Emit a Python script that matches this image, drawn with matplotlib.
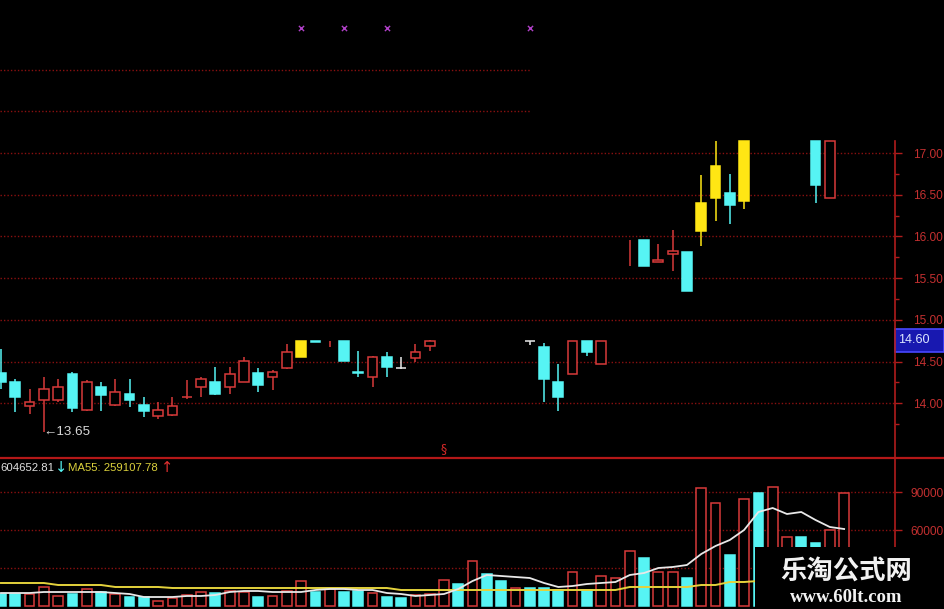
import numpy as np
import matplotlib
matplotlib.use('Agg')
import matplotlib.pyplot as plt
from matplotlib import font_manager
from matplotlib.patches import Rectangle
from matplotlib.lines import Line2D

nan = np.nan

# ---------------- data ----------------
idx = list(range(60))
kind = ['c', 'c', 'r', 'r', 'r', 'c', 'r', 'c', 'r', 'c',
        'c', 'r', 'r', 'r', 'r', 'c', 'r', 'r', 'c', 'r',
        'r', 'y', 'c', 'r', 'c', 'c', 'r', 'c', 'w', 'r',
        'r', '', '', '', '', '', '', 'w', 'c', 'c',
        'r', 'c', 'r', '', 'r', 'c', 'r', 'r', 'c', 'y',
        'y', 'c', 'y', '', '', '', '', 'c', 'r', '']
opens = [14.36, 14.26, 13.97, 14.04, 14.04, 14.35, 13.92, 14.19, 13.98, 14.11,
         13.98, 13.85, 13.86, 14.07, 14.19, 14.26, 14.19, 14.25, 14.36, 14.31,
         14.42, 14.56, 14.75, nan, 14.75, 14.38, 14.32, 14.55, 14.42, 14.54,
         14.69, nan, nan, nan, nan, nan, nan, 14.74, 14.67, 14.26,
         14.35, 14.75, 14.47, nan, nan, 15.96, 15.69, 15.79, 15.81, 16.06,
         16.46, 16.52, 16.43, nan, nan, nan, nan, 17.14, 16.46, nan]
closes = [14.26, 14.08, 14.02, 14.17, 14.19, 13.94, 14.26, 14.10, 14.14, 14.04,
          13.91, 13.92, 13.97, 14.08, 14.29, 14.11, 14.35, 14.51, 14.22, 14.38,
          14.62, 14.75, 14.73, nan, 14.51, 14.36, 14.55, 14.44, 14.42, 14.61,
          14.75, nan, nan, nan, nan, nan, nan, 14.74, 14.29, 14.08,
          14.75, 14.61, 14.75, nan, nan, 15.65, 15.72, 15.82, 15.35, 16.40,
          16.84, 16.38, 17.14, nan, nan, nan, nan, 16.62, 17.14, nan]
highs = [14.65, 14.29, 14.17, 14.32, 14.29, 14.38, 14.28, 14.26, 14.29, 14.29,
         14.08, 14.01, 14.08, 14.28, 14.32, 14.44, 14.43, 14.55, 14.42, 14.40,
         14.71, 14.75, 14.75, 14.75, 14.75, 14.63, 14.57, 14.61, 14.56, 14.71,
         14.76, nan, nan, nan, nan, nan, nan, 14.74, 14.72, 14.47,
         14.75, 14.75, 14.75, nan, 15.96, 15.96, 15.91, 16.08, 15.81, 16.74,
         17.14, 16.75, 17.14, nan, nan, nan, nan, 17.14, 17.14, nan]
lows = [14.17, 13.89, 13.87, 13.65, 14.01, 13.89, 13.91, 13.91, 13.97, 13.95,
        13.83, 13.81, 13.85, 14.05, 14.08, 14.10, 14.11, 14.25, 14.14, 14.16,
        14.41, 14.56, 14.73, 14.68, 14.51, 14.31, 14.20, 14.32, 14.41, 14.50,
        14.63, nan, nan, nan, nan, nan, nan, 14.70, 14.02, 13.91,
        14.35, 14.57, 14.47, nan, 15.64, 15.65, 15.69, 15.58, 15.35, 15.88,
        16.18, 16.15, 16.33, nan, nan, nan, nan, 16.40, 16.46, nan]

vol = [9470, 9470, 9470, 15000, 7900, 9470, 13420, 11050, 9470, 7100,
       7100, 3950, 6320, 8680, 11050, 10260, 11840, 11050, 7100, 7900,
       11840, 19740, 11050, 13420, 11050, 11840, 10260, 7100, 6320, 8680,
       9470, 20530, 17370, 35530, 25260, 19740, 14210, 14210, 14210, 12630,
       26840, 12630, 23690, 22110, 43420, 37900, 26840, 26840, 22110, 93160,
       81320, 40260, 84480, 89210, 93950, 54480, 54480, 49740, 60000, 89210]
vol_kind = ['c', 'c', 'r', 'r', 'r', 'c', 'r', 'c', 'r', 'c',
            'c', 'r', 'r', 'r', 'r', 'c', 'r', 'r', 'c', 'r',
            'r', 'r', 'c', 'r', 'c', 'c', 'r', 'c', 'c', 'r',
            'r', 'r', 'c', 'r', 'c', 'c', 'r', 'c', 'c', 'c',
            'r', 'c', 'r', 'r', 'r', 'c', 'r', 'r', 'c', 'r',
            'r', 'c', 'r', 'c', 'r', 'r', 'c', 'c', 'r', 'r']
vol_ma5 = [10260, 10260, 10260, 11050, 11050, 11050, 11050, 11050, 10260, 9470,
           7100, 7100, 7100, 7900, 7900, 8680, 11050, 11840, 11840, 11050,
           11050, 11050, 12630, 13420, 13420, 12630, 12630, 10260, 9470, 7900,
           8680, 9470, 13420, 19740, 24470, 23690, 22900, 22110, 18160, 15000,
           15790, 17370, 18160, 18950, 24470, 26050, 30000, 30790, 32370, 41050,
           47370, 52110, 60000, 74210, 77370, 72630, 74210, 67900, 62370, 60790]
vol_ma55 = [18160, 18160, 18160, 18160, 16580, 16580, 16580, 16580, 15000, 15000,
            15000, 15000, 14210, 14210, 14210, 14210, 14210, 14210, 14210, 14210,
            14210, 14210, 14210, 14210, 14210, 14210, 14210, 14210, 12630, 12630,
            12630, 12630, 12630, 12630, 12630, 12630, 12630, 12630, 12630, 12630,
            12630, 12630, 12630, 12630, 15000, 15000, 15000, 15000, 15000, 16580,
            16580, 18950, 18950, 19740, 20530, 21320, 22110, 22900, 22900, 23690]

price_ticks = [14.0, 14.5, 15.0, 15.5, 16.0, 16.5, 17.0]
price_minor = [13.75, 14.25, 14.75, 15.25, 15.75, 16.25, 16.75]
upper_grid = [17.5, 18.0]
vol_ticks = [30000, 60000, 90000]
signal_idx = [21, 24, 27, 37]
signal_level = 18.50
low_idx, low_val = 3, 13.65
last_price = '14.60'
ma5_text = '604652.81'
ma55_text = 'MA55: 259107.78'

# ---------------- style ----------------
W, H = 945, 609
names = {f.name for f in font_manager.fontManager.ttflist}
NARROW = 'Liberation Sans Narrow' in names
FAM = ['Liberation Sans Narrow', 'DejaVu Sans'] if NARROW else ['Liberation Sans', 'DejaVu Sans']
LBL = 10.0 if NARROW else 8.6
LEG = 9.6 if NARROW else 8.2

RED = '#d83a3a'
CYAN = '#56f4f4'
YEL = '#ffe614'
WHT = '#e8e8e8'
GRID = '#8a1010'
AXRED = '#b01c1c'
colmap = {'r': RED, 'c': CYAN, 'y': YEL, 'w': WHT}


def fx(px):
    return px / W


def fy(py):
    return 1 - py / H


fig = plt.figure(figsize=(9.45, 6.09), dpi=100, facecolor='black')
ax = fig.add_axes([0, fy(458), fx(895), 458 / H])
axv = fig.add_axes([0, 0, fx(895), (H - 458) / H])

xl = (-0.07, 62.56)
for a in (ax, axv):
    a.set_facecolor('black')
    a.set_xlim(*xl)
    for s in a.spines.values():
        s.set_visible(False)
    a.set_xticks([])
    a.yaxis.tick_right()

ax.set_ylim(13.343, 18.835)
axv.set_ylim(-2368, 116842)

# grid lines
for g in price_ticks:
    ax.axhline(g, color=GRID, lw=1, ls=(0, (1, 1.5)), zorder=0)
for g in upper_grid:
    ax.hlines(g, xl[0], 37, color=GRID, lw=1, ls=(0, (1, 1.5)), zorder=0)
for g in vol_ticks:
    axv.axhline(g, color=GRID, lw=1, ls=(0, (1, 1.5)), zorder=0)

# candles
x = np.array(idx, dtype=float)
o = np.array(opens); c = np.array(closes); h = np.array(highs); l = np.array(lows)
k = np.array(kind)
wick_ok = ~np.isnan(h)
ax.vlines(x[wick_ok], l[wick_ok], h[wick_ok],
          colors=[colmap[kk] for kk in k[wick_ok]], lw=1.1, zorder=2)
body_ok = ~np.isnan(o)
bx = x[body_ok]
bottom = np.minimum(o, c)[body_ok]
height = np.abs(c - o)[body_ok]
bk = k[body_ok]
face = ['black' if kk == 'r' else colmap[kk] for kk in bk]
edge = [colmap[kk] for kk in bk]
ax.bar(bx, height, bottom=bottom, width=0.68, color=face, edgecolor=edge,
       linewidth=1.1, zorder=3)

# signal marks
ax.scatter(signal_idx, [signal_level] * len(signal_idx), marker='x', s=14,
           color='#b040c8', linewidths=1.0, zorder=4)

# low label
ax.text(low_idx - 0.05, low_val, '\u2190' + f'{low_val:.2f}', color='#d8d8d8',
        fontsize=9.6, family=FAM, ha='left', va='center', zorder=5)
ax.text(31, 13.46, '\u00a7', color='#d02828', fontsize=9, ha='center', va='center')

# price ticks
ax.set_yticks(price_ticks)
ax.set_yticklabels([f'{t:.2f}' for t in price_ticks])
ax.set_yticks(price_minor, minor=True)
ax.tick_params(axis='y', which='major', length=5, width=1, color=AXRED,
               labelcolor='#c43030', labelsize=LBL, pad=8)
ax.tick_params(axis='y', which='minor', length=3, width=1, color=AXRED)
for t in ax.get_yticklabels():
    t.set_family(FAM)

# volume bars
vk = np.array(vol_kind)
vface = ['black' if kk == 'r' else CYAN for kk in vk]
vedge = [RED if kk == 'r' else CYAN for kk in vk]
axv.bar(x, vol, width=0.68, color=vface, edgecolor=vedge, linewidth=1.1, zorder=2)
axv.plot(x, vol_ma55, color='#e4d23c', lw=1.4, zorder=3)
axv.plot(x, vol_ma5, color='#e8e8e8', lw=1.3, zorder=4)
axv.set_yticks(vol_ticks)
axv.set_yticklabels([str(v) for v in vol_ticks])
axv.tick_params(axis='y', length=5, width=1, color=AXRED, labelcolor='#c43030',
                labelsize=LBL, pad=6)
for t in axv.get_yticklabels():
    t.set_family(FAM)

# panel separator and axis line
fig.add_artist(Line2D([0, 1], [fy(458), fy(458)], transform=fig.transFigure,
                      color='#b41818', lw=1.6))
fig.add_artist(Line2D([fx(895), fx(895)], [fy(141), 0], transform=fig.transFigure,
                      color=AXRED, lw=1.2))

# last price box
fig.add_artist(Rectangle((fx(895), fy(352)), fx(49), 23 / H, transform=fig.transFigure,
                         facecolor='#1818b0', edgecolor='#4848ff', lw=1.2))
fig.text(fx(898), fy(340), last_price, color='#dce6ff', fontsize=LBL + 0.5,
         family=FAM, ha='left', va='center')

# volume legend line
fig.text(fx(0), fy(468), ma5_text, color='#e0e0e0', fontsize=LEG, family=FAM,
         ha='left', va='center')
fig.text(fx(55), fy(467), '\u2193', color=CYAN, fontsize=10.5, family='DejaVu Sans',
         ha='left', va='center')
fig.text(fx(68), fy(468), ma55_text, color='#dcd23c', fontsize=LEG, family=FAM,
         ha='left', va='center')
fig.text(fx(161), fy(467), '\u2191', color='#e03030', fontsize=10.5, family='DejaVu Sans',
         ha='left', va='center')

# watermark
fig.add_artist(Rectangle((fx(755), 0), fx(190), (H - 547) / H, transform=fig.transFigure,
                         facecolor='black', edgecolor='none', zorder=10))
fig.text(fx(846), fy(571), '乐淘公式网', color='#f2f2f2', fontsize=19, weight='bold',
         family=['Noto Sans CJK SC', 'DejaVu Sans'], ha='center', va='center', zorder=11)
fig.text(fx(846), fy(597), 'www.60lt.com', color='#f2f2f2', fontsize=13.5, weight='bold',
         family=['Liberation Serif', 'DejaVu Serif'], ha='center', va='center', zorder=11)

fig.savefig('out.png', dpi=100, facecolor='black')
